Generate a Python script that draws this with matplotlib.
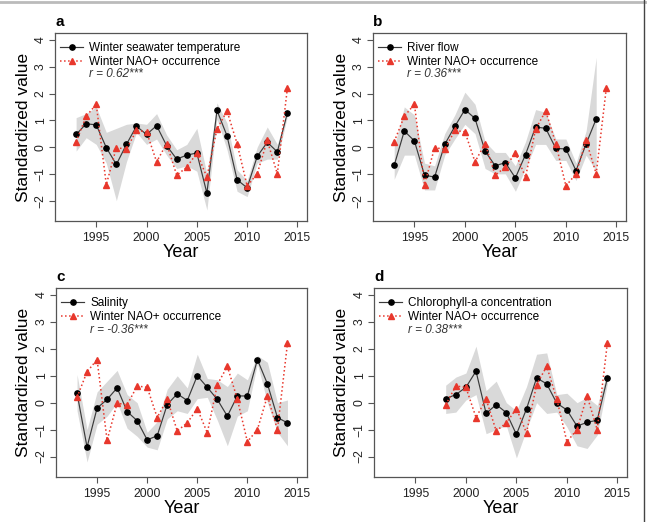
import matplotlib
matplotlib.use("Agg")
import matplotlib.pyplot as plt
from matplotlib.lines import Line2D

# NAO+ occurrence, shared by all panels (1993-2014)
nao_years = list(range(1993, 2015))
nao = [0.2, 1.15, 1.6, -1.4, -0.02, -0.08, 0.62, 0.57, -0.55, 0.13, -1.05,
       -0.75, -0.22, -1.12, 0.67, 1.35, 0.13, -1.45, -1.0, 0.25, -1.0, 2.2]

# a) winter seawater temperature
temp_years = list(range(1993, 2015))
temp = [0.47, 0.87, 0.83, -0.02, -0.65, 0.1, 0.78, 0.47, 0.8, 0.05, -0.45,
        -0.3, -0.22, -1.72, 1.37, 0.42, -1.22, -1.52, -0.35, 0.18, -0.18, 1.28]
temp_hi = [1.1, 1.25, 1.5, 0.55, 0.7, 0.85, 0.9, 0.85, 1.25, 0.45, -0.1,
           0.1, 0.7, -1.0, 1.65, 0.9, -0.85, -1.25, 0.0, 0.75, 0.1, 1.35]
temp_lo = [-0.15, 0.35, 0.1, -0.6, -2.0, -0.55, 0.55, 0.1, 0.3, -0.3, -0.8,
           -0.7, -0.9, -2.35, 1.05, -0.1, -1.65, -1.85, -0.6, -0.45, -0.45, 1.15]

# b) river flow
flow_years = list(range(1993, 2014))
flow = [-0.68, 0.6, 0.23, -1.05, -1.12, 0.1, 0.77, 1.4, 1.07, -0.15, -0.7,
        -0.58, -1.15, -0.28, 0.75, 0.7, -0.05, -0.07, -0.88, 0.12, 1.05]
flow_hi = [0.0, 1.5, 1.2, -0.6, -0.7, 0.5, 1.2, 2.05, 1.6, 0.2, -0.2,
           -0.2, -0.7, 0.2, 1.4, 1.3, 0.3, 0.3, -0.6, 0.6, 3.35]
flow_lo = [-1.2, -0.3, -0.3, -1.6, -1.6, -0.3, 0.3, 0.85, 0.5, -0.8, -1.0,
           -1.0, -1.65, -0.8, 0.1, 0.1, -0.5, -0.5, -1.25, -0.3, -0.9]

# c) salinity
sal_years = list(range(1993, 2015))
sal = [0.35, -1.65, -0.2, 0.12, 0.55, -0.33, -0.67, -1.38, -1.23, -0.07, 0.33,
       0.08, 1.0, 0.57, 0.12, -0.5, 0.25, 0.25, 1.6, 0.7, -0.55, -0.75]
sal_hi = [1.05, -1.0, 0.4, 0.8, 1.2, 0.3, 0.0, -1.1, -0.7, 0.5, 1.0,
          0.55, 1.8, 0.9, 0.85, 0.6, 1.1, 0.85, 1.75, 1.5, 0.0, 0.1]
sal_lo = [-0.3, -2.2, -0.8, -0.5, 0.0, -0.95, -1.25, -1.65, -1.75, -0.6, -0.3,
          -0.4, 0.15, 0.2, -0.65, -1.6, -0.5, -0.3, 1.45, 0.0, -1.1, -1.6]

# d) chlorophyll-a concentration
chl_years = list(range(1998, 2015))
chl = [0.15, 0.3, 0.57, 1.17, -0.4, -0.07, -0.37, -1.18, -0.23, 0.92, 0.7,
       -0.02, -0.27, -0.87, -0.73, -0.65, 0.9]
chl_hi = [0.65, 0.95, 1.1, 2.1, 0.45, 0.8, 0.0, -0.3, 0.6, 1.8, 1.85,
          0.3, 0.35, 0.0, 0.2, -0.1, 1.1]
chl_lo = [-0.4, -0.35, 0.1, 0.3, -1.15, -1.0, -0.85, -2.05, -1.0, 0.0, -0.4,
          -0.35, -0.9, -1.6, -1.7, -1.2, 0.7]

# letter, series label, r text, first NAO year shown, data
panels = [
    ("a", "Winter seawater temperature", "r = 0.62***", 1993, temp_years, temp, temp_lo, temp_hi),
    ("b", "River flow", "r = 0.36***", 1993, flow_years, flow, flow_lo, flow_hi),
    ("c", "Salinity", "r = -0.36***", 1993, sal_years, sal, sal_lo, sal_hi),
    ("d", "Chlorophyll-a concentration", "r = 0.38***", 1998, chl_years, chl, chl_lo, chl_hi),
]

plt.rcParams["font.family"] = ["Liberation Sans", "DejaVu Sans"]
frame_col = "#555555"
W, H = 647, 522
fig = plt.figure(figsize=(W / 100, H / 100), dpi=100)

# axes boxes in pixels: left, top, right, bottom
boxes = [(55, 33, 307, 221), (373, 33, 626, 221),
         (56, 288, 307, 477), (374, 288, 627, 477)]

for (letter, label, rtxt, start, yrs, vals, lo, hi), (l, t, r, b) in zip(panels, boxes):
    ax = fig.add_axes([l / W, 1 - b / H, (r - l) / W, (b - t) / H])
    i0 = nao_years.index(start)
    ax.fill_between(yrs, lo, hi, color="#d9d9d9", lw=0)
    ax.plot(yrs, vals, "-", color="#3a3a3a", lw=0.85, marker="o", ms=3.8,
            mfc="black", mec="black", label=label)
    ax.plot(nao_years[i0:], nao[i0:], ":", color="#e8372c", lw=1.1, marker="^",
            ms=5, mfc="#e8372c", mec="#e8372c", label="Winter NAO+ occurrence")
    ax.set_xlim(1990.9, 2015.95)
    ax.set_ylim(-2.76, 4.26)
    ax.set_xticks([1995, 2000, 2005, 2010, 2015])
    ax.set_yticks(range(-2, 5))
    ax.tick_params(colors=frame_col, labelcolor="#222222", labelsize=8.8,
                   length=4.5, width=0.8)
    ax.tick_params(axis="y", pad=1.5)
    for lab in ax.get_yticklabels():
        lab.set_rotation(90)
        lab.set_va("center")
    for s in ax.spines.values():
        s.set_color(frame_col)
        s.set_linewidth(0.9)
    ax.set_xlabel("Year", fontsize=13, labelpad=0)
    ax.set_ylabel("Standardized value", fontsize=12.5, labelpad=3)
    ax.text(0.0, 1.02, letter, transform=ax.transAxes, fontsize=11,
            fontweight="bold", ha="left", va="bottom")
    ax.legend(loc="upper left", bbox_to_anchor=(0.0, 0.975), frameon=False,
              fontsize=8.5, handlelength=2.0, handletextpad=0.5,
              borderaxespad=0.2, labelspacing=0.15, borderpad=0.2)
    ax.text(0.135, 0.78, rtxt, transform=ax.transAxes, fontsize=8.5,
            style="italic", color="#333333", ha="left", va="center")

# outer frame pieces seen in the reference
fig.add_artist(Line2D([0, 1], [1 - 2 / H, 1 - 2 / H], color="#bbbbbb", lw=2))
fig.add_artist(Line2D([1 - 3 / W, 1 - 3 / W], [0, 1], color="#444444", lw=1))

fig.savefig("out.png", dpi=100)
